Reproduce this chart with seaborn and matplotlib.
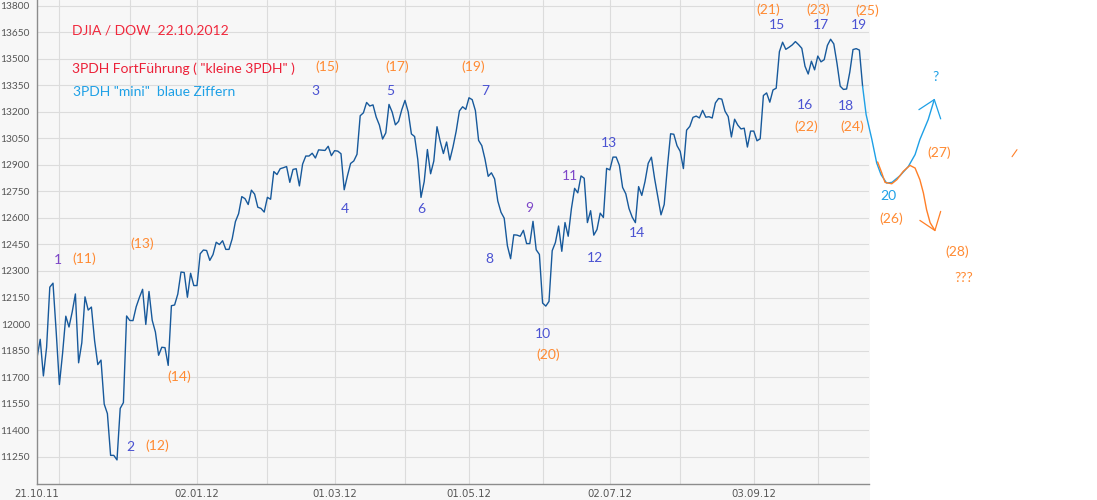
import matplotlib
matplotlib.use("Agg")
import matplotlib.pyplot as plt
import seaborn as sns
import pandas as pd
import numpy as np
from matplotlib.patches import Rectangle

# ---------------- data: DJIA daily closes (x = trading-day index, US holidays shown flat) ----
oct11 = [11808.79, 11913.62, 11706.62, 11869.04, 12208.55, 12231.11, 11955.01]
nov11 = [11657.96, 11836.04, 12044.47, 11983.24, 12068.39, 12170.18, 11780.94, 11893.79,
         12153.68, 12078.98, 12096.16, 11905.59, 11770.73, 11796.16, 11547.31, 11493.72,
         11257.55, 11257.55, 11231.78, 11523.01, 11555.63, 12045.68]
dec11 = [12020.03, 12019.42, 12097.83, 12150.13, 12196.37, 11997.70, 12184.26, 12021.39,
         11954.94, 11823.48, 11868.81, 11866.39, 11766.26, 12103.58, 12107.74, 12169.65,
         12294.00, 12291.35, 12151.41, 12287.04, 12217.56]
jan12 = [12217.56, 12397.38, 12418.42, 12415.70, 12359.92, 12392.69, 12462.47, 12449.45,
         12471.02, 12422.06, 12422.06, 12482.07, 12578.95, 12623.98, 12720.48, 12708.82,
         12675.75, 12756.96, 12734.63, 12660.46, 12653.72, 12632.91]
feb12 = [12716.46, 12705.41, 12862.23, 12845.13, 12878.20, 12883.95, 12890.46, 12801.23,
         12874.04, 12878.28, 12780.95, 12904.08, 12949.87, 12949.87, 12965.69, 12938.67,
         12984.69, 12982.95, 12981.51, 13005.12, 12952.07]
mar12 = [12980.30, 12977.57, 12962.81, 12759.15, 12837.33, 12907.94, 12922.02, 12959.71,
         13177.68, 13194.10, 13252.76, 13232.62, 13239.13, 13170.19, 13124.62, 13046.14,
         13080.73, 13241.63, 13197.73, 13126.21, 13145.82, 13212.04]
apr12 = [13264.49, 13199.55, 13074.75, 13060.14, 12929.59, 12715.93, 12805.39, 12986.58,
         12849.59, 12921.41, 13115.54, 13032.75, 12964.10, 13029.26, 12927.17, 13001.56,
         13090.72, 13204.62, 13228.31, 13213.63]
may12 = [13279.32, 13268.57, 13206.59, 13038.27, 13008.53, 12932.09, 12835.06, 12855.04,
         12820.60, 12695.35, 12632.00, 12598.55, 12442.49, 12369.38, 12504.48, 12502.81,
         12496.15, 12529.75, 12454.83, 12454.83, 12580.69, 12419.86, 12393.45]
jun12 = [12118.57, 12101.46, 12127.95, 12414.79, 12460.96, 12554.20, 12411.23, 12573.80,
         12496.38, 12651.91, 12767.17, 12741.82, 12837.33, 12824.39, 12573.57, 12640.78,
         12502.66, 12534.67, 12627.01, 12602.26, 12880.09]
jul12 = [12871.39, 12943.82, 12943.82, 12896.67, 12772.47, 12736.29, 12653.12, 12604.53,
         12573.27, 12777.09, 12727.21, 12805.54, 12908.70, 12943.36, 12822.57, 12721.46,
         12617.32, 12676.05, 12887.93, 13075.66, 13073.01, 13008.68]
aug12 = [12976.13, 12878.88, 13096.17, 13117.51, 13168.60, 13175.64, 13165.19, 13207.95,
         13169.43, 13172.14, 13164.78, 13250.11, 13275.20, 13271.64, 13203.58, 13172.76,
         13057.46, 13157.97, 13124.67, 13102.99, 13107.48, 13000.71, 13090.84]
sep12 = [13090.84, 13035.94, 13047.48, 13292.00, 13306.64, 13254.29, 13323.36, 13333.35,
         13539.86, 13593.37, 13553.10, 13564.64, 13577.96, 13596.93, 13579.47, 13558.92,
         13457.55, 13413.51, 13485.97, 13437.13]
oct12 = [13515.11, 13482.36, 13494.61, 13575.36, 13610.15, 13583.65, 13473.53, 13344.97,
         13326.39, 13328.85, 13424.23, 13551.78, 13557.00, 13548.94, 13343.51]

dow_close = oct11 + nov11 + dec11 + jan12 + feb12 + mar12 + apr12 + may12 + jun12 + jul12 + aug12 + sep12 + oct12

# x-axis: labelled ticks / month grid lines (trading-day index)
label_pos = [0, 50, 93, 135, 179, 224]
label_txt = ["21.10.11", "02.01.12", "01.03.12", "01.05.12", "02.07.12", "03.09.12"]
tick_pos = [7, 50, 93, 135, 179, 224]
month_grid = [7, 29, 50, 72, 93, 115, 135, 158, 179, 201, 224, 244]
y_ticks = list(range(11250, 13801, 150))

# hand-drawn projections (index, value)
blue_proj_x = [258, 259.1, 260.9, 262.4, 263.75, 265.5, 267.2, 269.7, 272.3, 274.4, 275.9, 278.5, 280.4]
blue_proj_y = [13344, 13184, 13043, 12911, 12845, 12797, 12801, 12839, 12891, 12958, 13043, 13156, 13269]
blue_head_x = [275.6, 280.4, 282.4]
blue_head_y = [13212, 13269, 13160]
orange_proj_x = [262.7, 264.0, 265.0, 267.1, 268.7, 270.7, 272.8, 274.4, 275.9, 277.0, 278.0, 279.1, 280.6]
orange_proj_y = [12916, 12854, 12801, 12793, 12816, 12863, 12897, 12882, 12816, 12741, 12646, 12573, 12529]
orange_head_x = [275.9, 280.6, 282.4]
orange_head_y = [12586, 12529, 12637]
stray_x = [304.7, 306.25]
stray_y = [12946, 12986]

# wave labels
blue_labels = [("1", 6.6, 12363), ("2", 29.1, 11305), ("3", 86.9, 13320), ("4", 96.25, 12652),
               ("5", 110.3, 13320), ("6", 120.0, 12652), ("7", 140.0, 13320), ("8", 141.25, 12369),
               ("9", 153.75, 12658), ("10", 158.1, 11945), ("11", 166.6, 12839), ("12", 174.4, 12375),
               ("13", 178.75, 13026), ("14", 187.5, 12516), ("15", 231.25, 13693), ("16", 240.0, 13241),
               ("17", 245.0, 13693), ("18", 252.7, 13235), ("19", 256.9, 13693)]
purple_set = {"1", "9", "11"}
orange_labels = [("(11)", 14.7, 12369), ("(12)", 37.5, 11311), ("(13)", 32.8, 12454), ("(14)", 44.4, 11701),
                 ("(15)", 90.6, 13456), ("(17)", 112.5, 13456), ("(19)", 136.25, 13456), ("(20)", 159.7, 11826),
                 ("(21)", 228.4, 13778), ("(22)", 240.3, 13116), ("(23)", 244.1, 13778), ("(24)", 254.9, 13116),
                 ("(25)", 259.6, 13769), ("(26)", 267.1, 12595), ("(27)", 281.9, 12969), ("(28)", 287.7, 12410),
                 ("???", 289.7, 12261)]
lightblue_labels = [("20", 265.9, 12722), ("?", 280.8, 13399)]
header = [("DJIA / DOW  22.10.2012", 10.8, 13660, "#f0283c"),
          ("3PDH FortFührung ( \"kleine 3PDH\" )", 10.8, 13444, "#ec2038"),
          ("3PDH \"mini\"  blaue Ziffern", 11.25, 13310, "#1ea0e6")]

# ---------------- style ----------------
sns.set_style("white")
plt.rcParams['font.family'] = ['Lato', 'DejaVu Sans']

W, H = 1097, 500
fig = plt.figure(figsize=(W / 100, H / 100), dpi=100)
fig.patch.set_facecolor("white")
fig.add_artist(Rectangle((0, 0), 870 / W, 1, transform=fig.transFigure,
                         facecolor="#f7f7f7", edgecolor="none", zorder=-10))
ax = fig.add_axes([37 / W, (H - 484.3) / H, 832 / W, 484.3 / H])
ax.set_facecolor("#f7f7f7")

df = pd.DataFrame({"idx": np.arange(len(dow_close)), "close": dow_close})
sns.lineplot(data=df, x="idx", y="close", ax=ax, color="#17599b", linewidth=1.0)

ax.set_xlim(0, 260)
ax.set_ylim(11094, 13832)
ax.set_xlabel("")
ax.set_ylabel("")

for s in ["top", "right"]:
    ax.spines[s].set_visible(False)
for s in ["left", "bottom"]:
    ax.spines[s].set_color("#8c8c8c")
    ax.spines[s].set_linewidth(1.0)

ax.set_yticks(y_ticks)
ax.set_yticklabels([str(v) for v in y_ticks])
ax.tick_params(axis="y", direction="out", length=4, width=0.8, color="#8c8c8c",
               labelsize=7.3, labelcolor="#555555", pad=1.2)

ax.set_xticks(tick_pos)
ax.set_xticklabels([""] * len(tick_pos))
ax.tick_params(axis="x", direction="out", length=2.5, width=0.8, color="#8c8c8c")
ax.set_xticks(month_grid, minor=True)
ax.tick_params(axis="x", which="minor", length=0)
for p, t in zip(label_pos, label_txt):
    ax.annotate(t, xy=(p, 0), xycoords=ax.get_xaxis_transform(), xytext=(0, -3.5),
                textcoords="offset points", ha="center", va="top", fontsize=7.3,
                color="#555555", family="DejaVu Sans", annotation_clip=False)

ax.grid(False)
for g in month_grid:
    ax.axvline(g, color="#dcdcdc", linewidth=0.8, zorder=0)
for v in y_ticks:
    ax.axhline(v, color="#dcdcdc", linewidth=0.8, zorder=0)

# projections
kw = dict(clip_on=False, solid_joinstyle="round")
ax.plot(blue_proj_x, blue_proj_y, color="#1ea0e6", linewidth=1.0, **kw)
ax.plot(blue_head_x, blue_head_y, color="#1ea0e6", linewidth=0.9, **kw)
ax.plot(orange_proj_x, orange_proj_y, color="#ff7f27", linewidth=1.0, **kw)
ax.plot(orange_head_x, orange_head_y, color="#ff7f27", linewidth=0.9, **kw)
ax.plot(stray_x, stray_y, color="#ff7f27", linewidth=0.8, **kw)

fs = 10
for t, x, y in blue_labels:
    c = "#7d46c8" if t in purple_set else "#4a52d2"
    ax.text(x, y, t, color=c, fontsize=fs, ha="center", va="center", clip_on=False)
for t, x, y in orange_labels:
    ax.text(x, y, t, color="#ff8a32", fontsize=fs, ha="center", va="center", clip_on=False)
for t, x, y in lightblue_labels:
    ax.text(x, y, t, color="#1ea0e6", fontsize=fs, ha="center", va="center", clip_on=False)
for t, x, y, c in header:
    ax.text(x, y, t, color=c, fontsize=fs, ha="left", va="center", clip_on=False)

fig.savefig("out.png", dpi=100, facecolor=fig.get_facecolor())
